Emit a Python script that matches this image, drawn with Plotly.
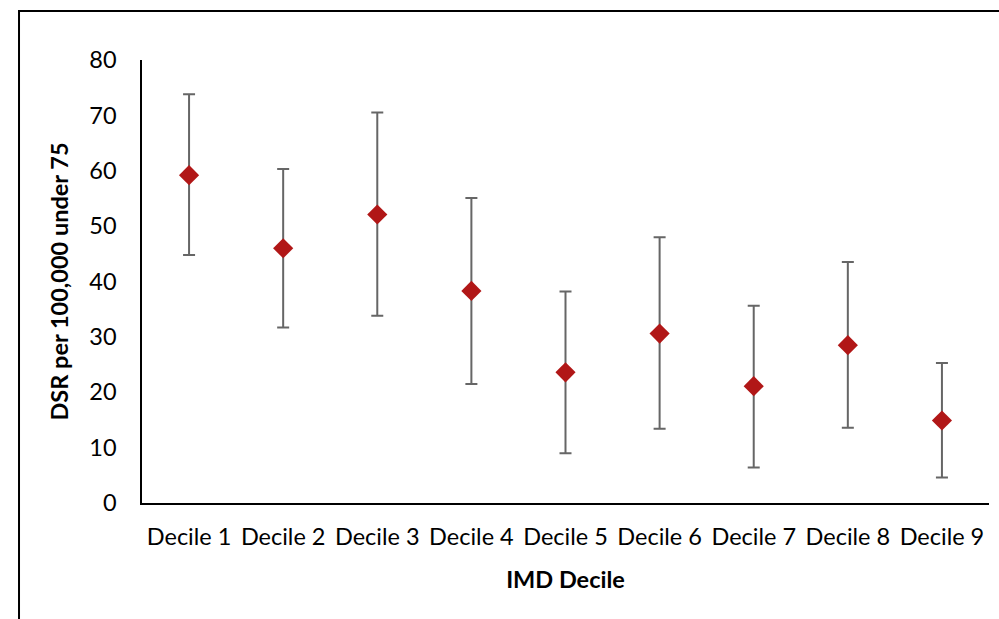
import plotly.graph_objects as go

# Directly standardised rates by IMD decile, with confidence limits
deciles = ["Decile 1", "Decile 2", "Decile 3", "Decile 4", "Decile 5",
           "Decile 6", "Decile 7", "Decile 8", "Decile 9"]
dsr = [59.2, 46.0, 52.1, 38.3, 23.6, 30.6, 21.1, 28.5, 14.9]
upper_ci = [73.8, 60.3, 70.5, 55.1, 38.2, 48.0, 35.6, 43.5, 25.3]
lower_ci = [44.8, 31.7, 33.8, 21.5, 9.0, 13.4, 6.4, 13.6, 4.6]
y_ticks = [0, 10, 20, 30, 40, 50, 60, 70, 80]

err_plus = [u - v for u, v in zip(upper_ci, dsr)]
err_minus = [v - l for v, l in zip(dsr, lower_ci)]

FONT = "Lato, 'Open Sans', sans-serif"

fig = go.Figure()
fig.add_trace(go.Scatter(
    x=deciles,
    y=dsr,
    mode="markers",
    marker=dict(symbol="diamond", size=15.5, color="#B11717", line=dict(width=0)),
    error_y=dict(
        type="data",
        symmetric=False,
        array=err_plus,
        arrayminus=err_minus,
        color="#666666",
        thickness=2,
        width=6,
    ),
    showlegend=False,
))

fig.update_layout(
    width=999,
    height=619,
    margin=dict(l=142, r=10, t=60, b=116),
    paper_bgcolor="white",
    plot_bgcolor="white",
    font=dict(family=FONT, size=23.5, color="black"),
    xaxis=dict(
        type="category",
        range=[-0.5, 8.5],
        showline=True,
        linecolor="black",
        linewidth=1.5,
        showgrid=False,
        ticks="",
        ticklabelstandoff=12,
        tickfont=dict(size=23.5),
        title=dict(text="<b>IMD Decile</b>", font=dict(size=23.5), standoff=23),
    ),
    yaxis=dict(
        range=[0, 80],
        tickvals=y_ticks,
        showline=True,
        linecolor="black",
        linewidth=1.5,
        showgrid=False,
        zeroline=False,
        ticks="",
        ticklabelstandoff=19,
        tickfont=dict(size=23.5),
        title=dict(text="<b>DSR per 100,000 under 75</b>", font=dict(size=23.5), standoff=14),
    ),
    shapes=[
        # outer chart border (left and top edges fall inside the view)
        dict(type="rect", xref="paper", yref="paper",
             x0=-0.1452, x1=1.1, y0=-0.3, y1=1.1106,
             line=dict(color="black", width=2), fillcolor="rgba(0,0,0,0)",
             layer="below"),
    ],
)

fig.write_html("out.html")
